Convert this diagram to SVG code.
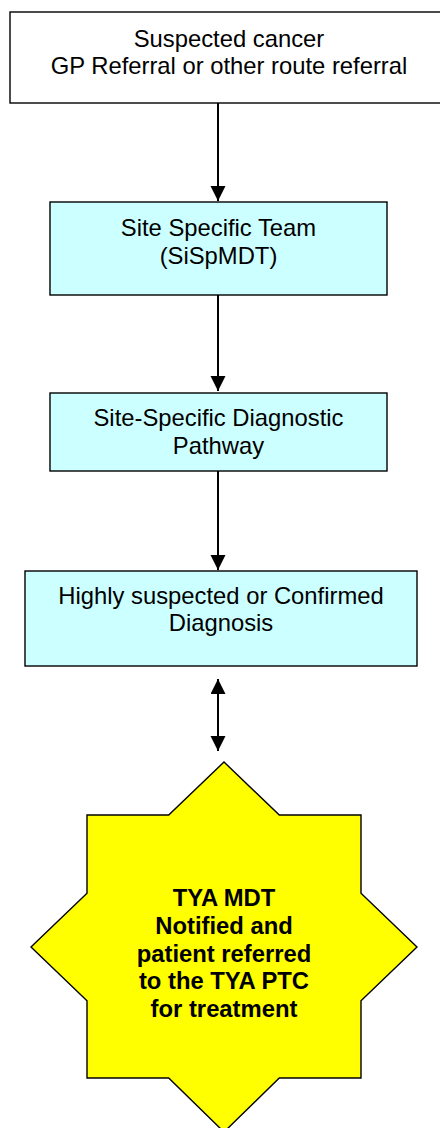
<svg xmlns="http://www.w3.org/2000/svg" width="440" height="1128" viewBox="0 0 440 1128">
<style>
.box{stroke:#000;stroke-width:1.4}
.blue{fill:#CCFFFF}
.white{fill:#FFFFFF}
.star{fill:#FFFF00;stroke:#000;stroke-width:1.4}
.t{font-family:"Liberation Sans",Arial,sans-serif;font-size:23.8px;fill:#000;text-anchor:middle}
.b{font-weight:bold}
.conn{stroke:#000;stroke-width:2;fill:none}
</style>
<defs>
<marker id="ah" markerUnits="userSpaceOnUse" markerWidth="16" markerHeight="16" viewBox="0 0 16 16" refX="15" refY="7.5" orient="auto-start-reverse">
<path d="M0,0 L15,7.5 L0,15 z" fill="#000"/>
</marker>
</defs>
<rect width="440" height="1128" fill="#fff"/>
<g id="connectors">
<line class="conn" x1="218" y1="103" x2="218" y2="201" marker-end="url(#ah)"/>
<line class="conn" x1="218" y1="295" x2="218" y2="391" marker-end="url(#ah)"/>
<line class="conn" x1="218" y1="471" x2="218" y2="570" marker-end="url(#ah)"/>
<line class="conn" x1="218" y1="679" x2="218" y2="751" marker-start="url(#ah)" marker-end="url(#ah)"/>
</g>
<g id="referral">
<rect class="box white" x="10" y="12" width="440" height="91"/>
<text class="t" x="229" y="47">Suspected cancer</text>
<text class="t" x="229" y="74">GP Referral or other route referral</text>
</g>
<g id="sispmdt">
<rect class="box blue" x="50" y="202" width="337" height="93"/>
<text class="t" x="218.5" y="236">Site Specific Team</text>
<text class="t" x="218.5" y="264">(SiSpMDT)</text>
</g>
<g id="pathway">
<rect class="box blue" x="50" y="393" width="337" height="78"/>
<text class="t" x="218.5" y="426">Site-Specific Diagnostic</text>
<text class="t" x="218.5" y="454">Pathway</text>
</g>
<g id="diagnosis">
<rect class="box blue" x="25" y="571" width="392" height="95"/>
<text class="t" x="221" y="604">Highly suspected or Confirmed</text>
<text class="t" x="221" y="631">Diagnosis</text>
</g>
<g id="tya">
<polygon class="star" points="224,762 279.3,815 361,815 361,893.3 417,947 361,1000.7 361,1078 279.3,1078 224,1132 168.7,1078 87,1078 87,1000.7 31,947 87,893.3 87,815 168.7,815"/>
<text class="t b" x="224" y="906">TYA MDT</text>
<text class="t b" x="224" y="934">Notified and</text>
<text class="t b" x="224" y="962">patient referred</text>
<text class="t b" x="224" y="989">to the TYA PTC</text>
<text class="t b" x="224" y="1017">for treatment</text>
</g>
</svg>
